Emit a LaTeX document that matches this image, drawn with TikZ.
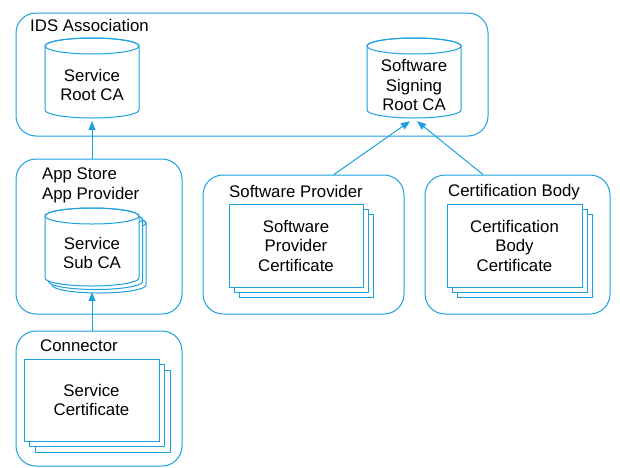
\documentclass[tikz,border=0pt]{standalone}
\usepackage{fontspec}
\setmainfont{Liberation Sans}
\usetikzlibrary{arrows.meta,calc}
\definecolor{ln}{HTML}{1BA0E0}
\newcommand\fs{\fontsize{16.8pt}{19.5pt}\selectfont}
\newcommand\drawcyl[3]{%
  \draw[shp] (#1-47,#2+8) -- (#1-47,#3-8) arc[start angle=180,end angle=360,x radius=47pt,y radius=8pt] -- (#1+47,#2+8) arc[start angle=0,end angle=180,x radius=47pt,y radius=8pt] -- cycle;
  \draw[shp,fill=none] (#1,#2+8) ellipse[x radius=47pt,y radius=8pt];}
\newcommand\cyltext[2]{\raisebox{-#1}[\height][\depth]{\begin{tabular}{@{}c@{}}#2\end{tabular}}}
\newcommand\backrect[5]{% cx cy w h off
  \draw[shp] (#1-#3/2+#5,#2-#4/2+#5) rectangle ++(#3,#4);}
\tikzset{
  shp/.style={draw=ln, line width=1pt, fill=white},
  box/.style={draw=ln, line width=1pt, fill=white, rounded corners=20pt, inner sep=0pt},
  lab/.style={inner sep=0pt, anchor=west, font=\fs, align=left},
  cylnode/.style={inner sep=0pt, minimum width=94pt, font=\fs},
  certnode/.style={draw=ln, line width=1pt, fill=white, inner sep=0pt, font=\fs, align=center},
  arr/.style={draw=ln, line width=1pt, -{Triangle[length=9pt,width=7pt]}},
}
\begin{document}
\begin{tikzpicture}[x=1pt,y=-1pt]
\useasboundingbox (0,0) rectangle (620,467);
% containers
\node[box, minimum width=472pt, minimum height=123pt] (ids) at (252,74.5) {};
\node[box, minimum width=166pt, minimum height=155pt] (appstore) at (99,236.5) {};
\node[box, minimum width=166pt, minimum height=135pt] (connector) at (99,398.5) {};
\node[box, minimum width=201pt, minimum height=139pt] (sp) at (303.5,244.5) {};
\node[box, minimum width=185pt, minimum height=139pt] (cb) at (517.5,244.5) {};
% container labels
\node[lab] (idsl) at (30,25) {IDS Association};
\node[lab] (asl) at (42,185.5) {App Store\\App Provider};
\node[lab] (conl) at (40,346) {Connector};
\node[lab] (spl) at (229,191) {Software Provider};
\node[lab] (cbl) at (448,192) {Certification Body};
% cylinders
\drawcyl{92}{38}{118}
\node[cylnode, minimum height=80pt] (src) at (92,78) {\cyltext{9pt}{Service\\Root CA}};
\drawcyl{414}{38}{118}
\node[cylnode, minimum height=80pt] (ssr) at (414,78) {\cyltext{9.5pt}{Software\\Signing\\Root CA}};
\drawcyl{99}{215}{293}
\drawcyl{95.5}{211.5}{289.5}
\drawcyl{92}{208}{286}
\node[cylnode, minimum height=78pt] (subca) at (92,247) {\cyltext{8pt}{Service\\Sub CA}};
% stacked certificates
\backrect{91.5}{400}{135}{82}{11}
\backrect{91.5}{400}{135}{82}{5.5}
\node[certnode, minimum width=135pt, minimum height=82pt] (cert) at (91.5,400) {Service\\Certificate};
\backrect{296}{245.5}{134}{83}{10}
\backrect{296}{245.5}{134}{83}{5}
\node[certnode, minimum width=134pt, minimum height=83pt] (spc) at (296,245.5) {Software\\Provider\\Certificate};
\backrect{514.5}{245.5}{135}{83}{10}
\backrect{514.5}{245.5}{135}{83}{5}
\node[certnode, minimum width=135pt, minimum height=83pt] (cbc) at (514.5,245.5) {Certification\\Body\\Certificate};
% arrows
\draw[arr] (src.south |- appstore.north) -- ([yshift=-3pt]src.south);
\draw[arr] (subca.south |- connector.north) -- ([yshift=-6pt]subca.south);
\draw[arr] ([xshift=30.5pt]sp.north) -- ([xshift=-4pt,yshift=-3pt]ssr.south);
\draw[arr] ([xshift=-34.5pt]cb.north) -- ([xshift=3pt,yshift=-3pt]ssr.south);
\end{tikzpicture}
\end{document}
